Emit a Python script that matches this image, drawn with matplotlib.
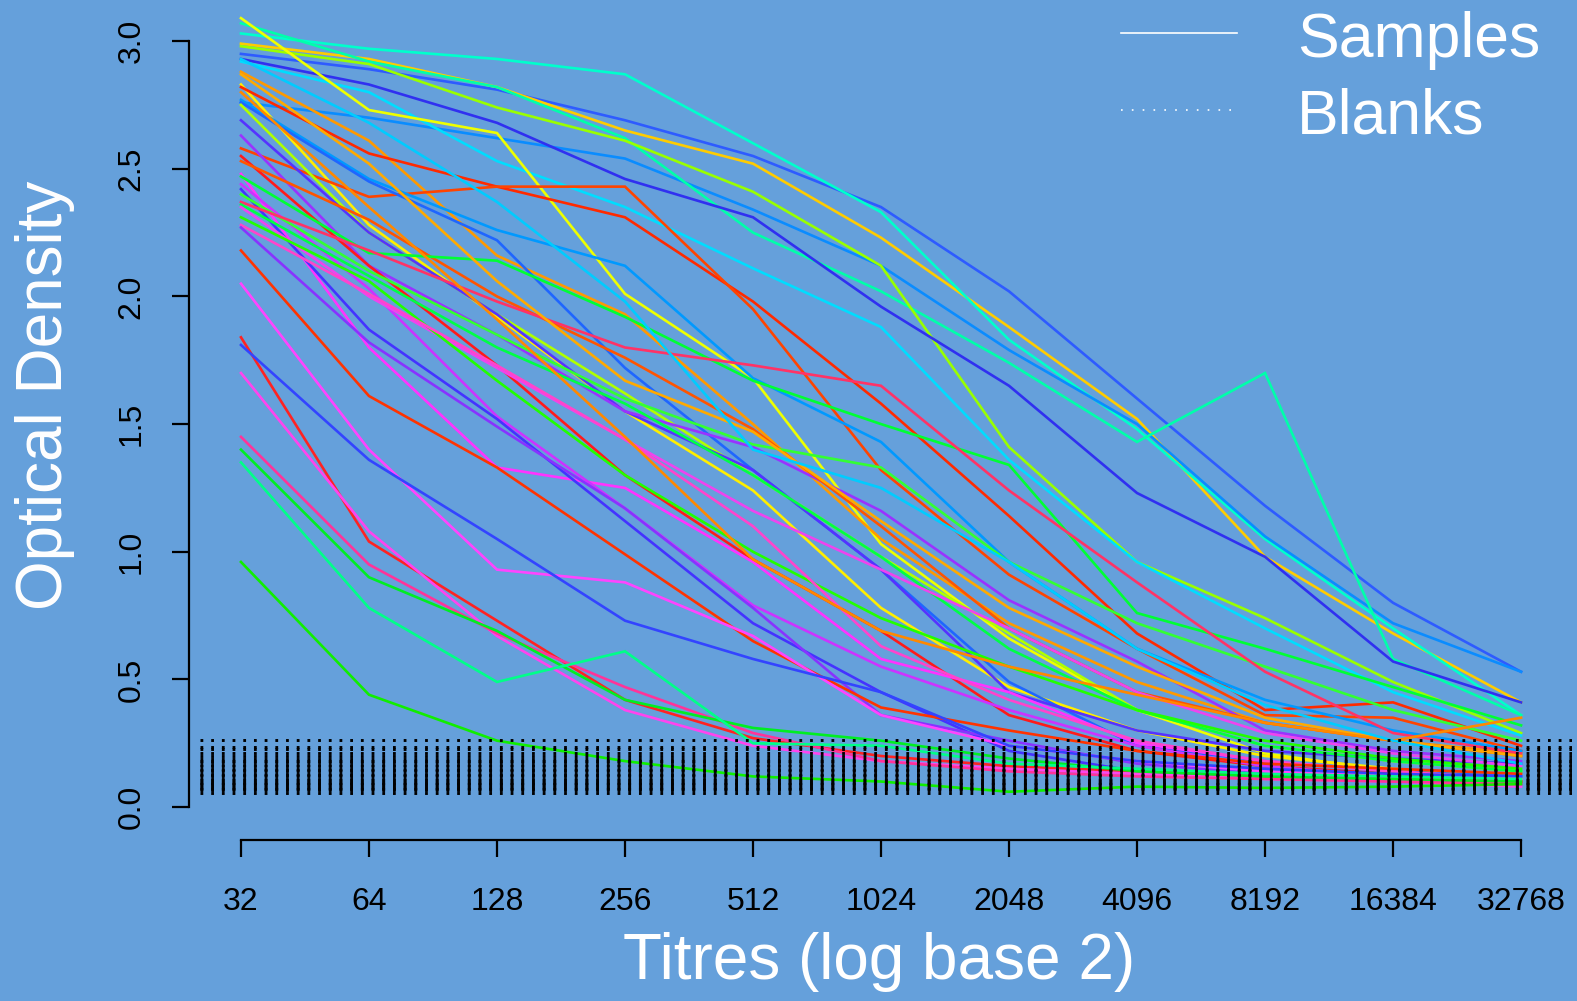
import matplotlib
matplotlib.use("Agg")
import matplotlib.pyplot as plt
from matplotlib.lines import Line2D
from matplotlib.ticker import NullLocator

# dilution series (x) and tick labels
titres = [32, 64, 128, 256, 512, 1024, 2048, 4096, 8192, 16384, 32768]
x_tick_labels = ["32", "64", "128", "256", "512", "1024", "2048", "4096", "8192", "16384", "32768"]
y_ticks = [0.0, 0.5, 1.0, 1.5, 2.0, 2.5, 3.0]
y_tick_labels = ["0.0", "0.5", "1.0", "1.5", "2.0", "2.5", "3.0"]

# sample curves (optical density at each titre)
s01 = [2.95, 2.89, 2.81, 2.69, 2.55, 2.35, 2.02, 1.60, 1.18, 0.80, 0.53]
s02 = [2.99, 2.93, 2.82, 2.65, 2.52, 2.23, 1.88, 1.52, 0.98, 0.68, 0.41]
s03 = [3.03, 2.97, 2.93, 2.87, 2.60, 2.33, 1.83, 1.48, 1.05, 0.70, 0.36]
s04 = [2.76, 2.70, 2.62, 2.54, 2.34, 2.12, 1.79, 1.50, 1.06, 0.72, 0.53]
s05 = [3.07, 2.92, 2.82, 2.62, 2.25, 2.02, 1.74, 1.43, 1.70, 0.58, 0.36]
s06 = [2.98, 2.91, 2.74, 2.61, 2.41, 2.12, 1.41, 0.96, 0.74, 0.49, 0.29]
s07 = [2.93, 2.83, 2.68, 2.46, 2.31, 1.96, 1.65, 1.23, 0.98, 0.57, 0.41]
s08 = [2.92, 2.80, 2.53, 2.35, 2.11, 1.88, 1.36, 0.96, 0.70, 0.45, 0.28]
s09 = [3.09, 2.73, 2.64, 2.01, 1.68, 1.03, 0.66, 0.38, 0.21, 0.14, 0.10]
s10 = [2.88, 2.61, 2.16, 1.93, 1.50, 1.05, 0.72, 0.49, 0.33, 0.26, 0.21]
s11 = [2.83, 2.28, 1.92, 1.55, 1.24, 0.78, 0.47, 0.30, 0.20, 0.15, 0.11]
s12 = [2.82, 2.56, 2.43, 2.31, 1.98, 1.58, 1.14, 0.68, 0.38, 0.41, 0.24]
s13 = [2.58, 2.39, 2.43, 2.43, 1.95, 1.32, 0.91, 0.62, 0.36, 0.35, 0.22]
s14 = [2.77, 2.46, 2.26, 2.12, 1.68, 1.43, 0.96, 0.62, 0.42, 0.30, 0.22]
s15 = [2.76, 2.45, 2.22, 1.72, 1.32, 0.93, 0.49, 0.24, 0.18, 0.14, 0.12]
s16 = [2.75, 2.25, 1.93, 1.62, 1.30, 0.98, 0.68, 0.38, 0.24, 0.18, 0.14]
s17 = [2.69, 2.25, 1.93, 1.55, 1.32, 0.93, 0.45, 0.30, 0.22, 0.19, 0.17]
s18 = [2.63, 2.12, 1.85, 1.55, 1.41, 1.16, 0.81, 0.57, 0.30, 0.22, 0.18]
s19 = [2.55, 2.12, 1.73, 1.30, 0.97, 0.69, 0.36, 0.22, 0.16, 0.13, 0.10]
s20 = [2.53, 2.30, 2.00, 1.76, 1.48, 1.10, 0.70, 0.45, 0.33, 0.26, 0.20]
s21 = [2.48, 1.80, 1.33, 1.25, 0.96, 0.58, 0.45, 0.25, 0.18, 0.14, 0.10]
s22 = [2.47, 2.17, 2.14, 1.92, 1.67, 1.50, 1.34, 0.76, 0.62, 0.47, 0.32]
s23 = [2.44, 2.03, 1.53, 1.17, 0.79, 0.55, 0.38, 0.24, 0.16, 0.12, 0.09]
s24 = [2.42, 1.87, 1.52, 1.12, 0.72, 0.45, 0.22, 0.14, 0.12, 0.10, 0.09]
s25 = [2.40, 2.10, 1.85, 1.60, 1.42, 1.33, 0.96, 0.72, 0.55, 0.38, 0.26]
s26 = [2.37, 2.18, 1.98, 1.80, 1.73, 1.65, 1.24, 0.88, 0.53, 0.29, 0.21]
s27 = [2.36, 2.08, 1.80, 1.58, 1.30, 0.98, 0.62, 0.38, 0.24, 0.18, 0.14]
s28 = [2.35, 2.00, 1.72, 1.44, 1.16, 0.93, 0.70, 0.45, 0.29, 0.21, 0.16]
s29 = [2.31, 2.06, 1.67, 1.30, 1.00, 0.74, 0.55, 0.38, 0.26, 0.19, 0.15]
s30 = [2.28, 2.01, 1.73, 1.44, 1.10, 0.63, 0.42, 0.26, 0.18, 0.14, 0.11]
s31 = [2.27, 1.82, 1.49, 1.17, 0.78, 0.36, 0.26, 0.17, 0.13, 0.11, 0.09]
s32 = [2.18, 1.61, 1.33, 0.99, 0.65, 0.39, 0.30, 0.22, 0.17, 0.15, 0.13]
s33 = [2.05, 1.40, 0.93, 0.88, 0.67, 0.36, 0.24, 0.18, 0.14, 0.12, 0.09]
s34 = [1.84, 1.04, 0.73, 0.42, 0.27, 0.20, 0.16, 0.14, 0.12, 0.11, 0.10]
s35 = [1.81, 1.36, 1.05, 0.73, 0.58, 0.45, 0.24, 0.18, 0.15, 0.13, 0.12]
s36 = [1.70, 1.08, 0.67, 0.38, 0.24, 0.18, 0.15, 0.13, 0.11, 0.10, 0.08]
s37 = [1.45, 0.95, 0.68, 0.47, 0.29, 0.18, 0.14, 0.12, 0.11, 0.10, 0.09]
s38 = [1.40, 0.90, 0.69, 0.42, 0.31, 0.26, 0.19, 0.14, 0.12, 0.11, 0.10]
s39 = [1.35, 0.78, 0.49, 0.61, 0.25, 0.24, 0.17, 0.15, 0.13, 0.12, 0.11]
s40 = [0.96, 0.44, 0.26, 0.18, 0.12, 0.10, 0.06, 0.08, 0.075, 0.08, 0.09]
s41 = [2.87, 2.52, 2.06, 1.67, 1.47, 1.12, 0.78, 0.55, 0.35, 0.26, 0.20]
s42 = [2.80, 2.35, 1.91, 1.45, 0.97, 0.69, 0.55, 0.44, 0.33, 0.26, 0.35]
s43 = [2.93, 2.68, 2.37, 1.98, 1.40, 1.25, 0.96, 0.62, 0.40, 0.26, 0.17]

samples = [s01, s02, s03, s04, s05, s06, s07, s08, s09, s10, s11, s12, s13, s14,
           s15, s16, s17, s18, s19, s20, s21, s22, s23, s24, s25, s26, s27, s28,
           s29, s30, s31, s32, s33, s34, s35, s36, s37, s38, s39, s40, s41, s42, s43]

sample_colours = ["#2e5bff", "#ffcc00", "#00ffcc", "#0a8cff", "#00ffaa", "#99ff00",
                  "#3030f0", "#00ddff", "#eeff00", "#ff9900", "#ffee00", "#ff2a00",
                  "#ff4400", "#0099ff", "#1f66ff", "#b0ff00", "#5533ff", "#9933ff",
                  "#ff1a1a", "#ff5500", "#ff33ff", "#00ff33", "#cc33ff", "#4433ff",
                  "#33ff33", "#ff3366", "#00ff44", "#ee44ee", "#22ff00", "#ff44cc",
                  "#8833ff", "#ff3300", "#ff44ff", "#ff2222", "#3344ff", "#ff44ee",
                  "#ff3399", "#00ee22", "#00ff88", "#11ee00", "#ffaa00", "#ff8800",
                  "#00ccff"]

# blank wells, drawn as dotted horizontal lines
blank_levels = [0.264, 0.236, 0.226, 0.21, 0.20, 0.19, 0.18, 0.175, 0.165, 0.16,
                0.15, 0.145, 0.14, 0.13, 0.125, 0.12, 0.11, 0.105, 0.10, 0.095,
                0.09, 0.085, 0.08, 0.075, 0.07, 0.065, 0.057]

bg = "#65a0db"
W, H = 1577, 1001
plt.rcParams["font.family"] = ["Liberation Sans", "DejaVu Sans"]
plt.rcParams["lines.scale_dashes"] = False

fig = plt.figure(figsize=(W / 100, H / 100), dpi=100, facecolor=bg)
# plot region in pixels: x 189..1572, y 0..840 (from top)
ax = fig.add_axes([189 / W, 1 - 840 / H, (1572 - 189) / W, 840 / H])
ax.set_facecolor(bg)

for vals, col in zip(samples, sample_colours):
    ax.plot(titres, vals, color=col, lw=1.9, solid_joinstyle="miter", zorder=2)

ax.hlines(blank_levels, 2 ** 4.68, 2 ** 15.398, colors="black", lw=2.1,
          linestyles=[(0, (2.0, 5.7))], zorder=3)

ax.set_xscale("log", base=2)
ax.set_xlim(2 ** 4.594, 2 ** 15.398)
ax.set_ylim(-0.129, 3.161)

ax.set_xticks(titres, x_tick_labels)
ax.xaxis.set_minor_locator(NullLocator())
ax.set_yticks(y_ticks, y_tick_labels)

for side in ["top", "right"]:
    ax.spines[side].set_visible(False)
ax.spines["left"].set_bounds(0, 3)
ax.spines["bottom"].set_bounds(32, 32768)
ax.spines["left"].set_linewidth(1.6)
ax.spines["bottom"].set_linewidth(1.6)

ax.tick_params(axis="both", direction="out", length=12.5, width=1.6, labelsize=23, colors="black")
ax.tick_params(axis="x", pad=21)
ax.tick_params(axis="y", pad=18)
for lab in ax.get_yticklabels():
    lab.set_rotation(90)
    lab.set_va("center")

ax.set_xlabel("Titres (log base 2)", fontsize=46, color="white", va="center")
ax.xaxis.set_label_coords((879 - 189) / 1383, (840 - 962) / 840)
ax.set_ylabel("Optical Density", fontsize=46, color="white", va="center")
ax.yaxis.set_label_coords((45 - 189) / 1383, (840 - 395) / 840)

# legend, drawn in figure pixels
fig.add_artist(Line2D([1121 / W, 1237 / W], [1 - 33 / H, 1 - 33 / H], color="white", lw=1.2))
fig.add_artist(Line2D([1121 / W, 1231 / W], [1 - 110 / H, 1 - 110 / H], color="white", lw=1.2,
                      linestyle=(0, (1.2, 6.6))))
fig.text(1297 / W, 1 - 57 / H, "Samples", fontsize=45, color="white", va="baseline")
fig.text(1297 / W, 1 - 133 / H, "Blanks", fontsize=45, color="white", va="baseline")

fig.savefig("out.png", dpi=100, facecolor=bg)
